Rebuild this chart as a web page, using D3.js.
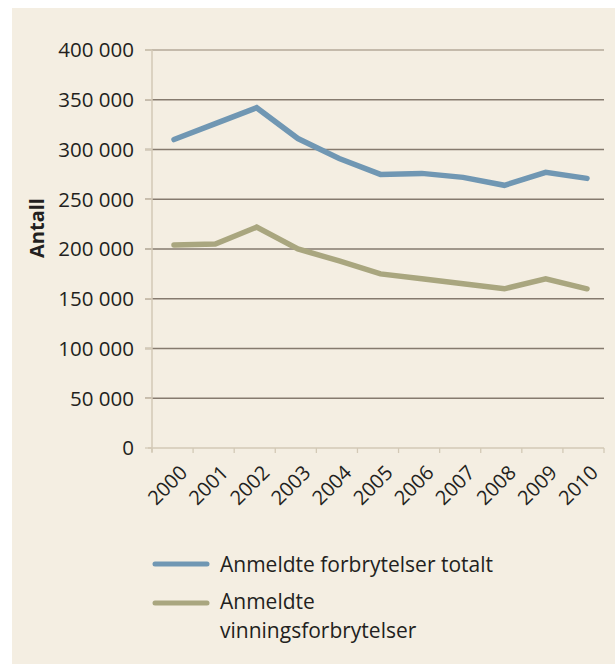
<!DOCTYPE html>
<html>
<head>
<meta charset="utf-8">
<script src="https://cdn.jsdelivr.net/npm/d3@7"></script>
<style>
  html, body { margin: 0; padding: 0; background: #fff; }
  svg { display: block; }
  text { font-family: "Open Sans", "Noto Sans", sans-serif; fill: #231f20; }
</style>
</head>
<body>
<svg id="chart" width="615" height="664"></svg>
<script>
const years = ['2000', '2001', '2002', '2003', '2004', '2005', '2006', '2007', '2008', '2009', '2010'];
const totalt = [310000, 326000, 342000, 311000, 291000, 275000, 276000, 272000, 264000, 277000, 271000];
const vinning = [204000, 205000, 222000, 200000, 188000, 175000, 170000, 165000, 160000, 170000, 160000];
const yTicks = [0, 50000, 100000, 150000, 200000, 250000, 300000, 350000, 400000];
const seriesNames = ['Anmeldte forbrytelser totalt', 'Anmeldte vinningsforbrytelser'];

const blue = '#7097b3', olive = '#a9a67f';

const svg = d3.select('#chart');

// cream background panel
svg.append('rect')
    .attr('x', 12).attr('y', 8)
    .attr('width', 603).attr('height', 656)
    .attr('fill', '#f4eee2');

const y = d3.scaleLinear().domain([0, 400000]).range([448, 50]);
const xBand = d3.scaleBand().domain(years).range([152, 604]);
const x = d3.scalePoint().domain(years).range([174, 587]);

const fmt = v => d3.format(',')(v).replace(/,/g, ' ');

// gridlines
svg.append('g')
    .selectAll('line')
    .data(yTicks.filter(d => d > 0))
    .join('line')
    .attr('x1', 145).attr('x2', 604)
    .attr('y1', d => y(d)).attr('y2', d => y(d))
    .attr('stroke', d => d === 400000 ? '#b5a999' : '#857a6e')
    .attr('stroke-width', 1.3);

// tick stubs on the left of axis
svg.append('g')
    .selectAll('line')
    .data(yTicks)
    .join('line')
    .attr('x1', 145).attr('x2', 152)
    .attr('y1', d => y(d)).attr('y2', d => y(d))
    .attr('stroke', '#d3c9b6')
    .attr('stroke-width', 1.3);

// y axis line
svg.append('line')
    .attr('x1', 152).attr('x2', 152)
    .attr('y1', 50).attr('y2', 452)
    .attr('stroke', '#d3c9b6').attr('stroke-width', 1.5);

// x axis line + ticks
svg.append('line')
    .attr('x1', 148).attr('x2', 604)
    .attr('y1', 448).attr('y2', 448)
    .attr('stroke', '#d3c9b6').attr('stroke-width', 1.5);

svg.append('g')
    .selectAll('line')
    .data(years.concat(['end']))
    .join('line')
    .attr('x1', d => d === 'end' ? 604 : xBand(d))
    .attr('x2', d => d === 'end' ? 604 : xBand(d))
    .attr('y1', 448).attr('y2', 453)
    .attr('stroke', '#d3c9b6').attr('stroke-width', 1.3);

// y tick labels
svg.append('g')
    .selectAll('text')
    .data(yTicks)
    .join('text')
    .attr('x', 134)
    .attr('y', d => y(d))
    .attr('dy', '0.36em')
    .attr('text-anchor', 'end')
    .style('font-size', '20.5px')
    .text(fmt);

// x tick labels, rotated
svg.append('g')
    .selectAll('text')
    .data(years)
    .join('text')
    .attr('transform', d => `translate(${xBand(d) + xBand.bandwidth() / 2 + 16},${474}) rotate(-45)`)
    .attr('text-anchor', 'end')
    .style('font-size', '20px')
    .text(d => d);

// y axis title
svg.append('text')
    .attr('transform', 'translate(44,228) rotate(-90)')
    .attr('text-anchor', 'middle')
    .style('font-size', '20px')
    .style('font-weight', 'bold')
    .text('Antall');

// lines
const line = d3.line()
    .x((d, i) => x(years[i]))
    .y(d => y(d));

[[totalt, blue], [vinning, olive]].forEach(([vals, col]) => {
    svg.append('path')
        .datum(vals)
        .attr('d', line)
        .attr('fill', 'none')
        .attr('stroke', col)
        .attr('stroke-width', 5.5)
        .attr('stroke-linejoin', 'miter')
        .attr('stroke-linecap', 'round');
});

// legend
const legend = svg.append('g');
legend.append('line')
    .attr('x1', 155).attr('x2', 207).attr('y1', 564).attr('y2', 564)
    .attr('stroke', blue).attr('stroke-width', 5).attr('stroke-linecap', 'round');
legend.append('text')
    .attr('x', 220).attr('y', 572)
    .style('font-size', '21px')
    .text(seriesNames[0]);

legend.append('line')
    .attr('x1', 155).attr('x2', 207).attr('y1', 603).attr('y2', 603)
    .attr('stroke', olive).attr('stroke-width', 5).attr('stroke-linecap', 'round');
// two-line label
seriesNames[1].split(' ').forEach((w, i) => {
    legend.append('text')
        .attr('x', 220).attr('y', 609 + i * 29)
        .style('font-size', '21px')
        .text(w);
});
</script>
</body>
</html>
